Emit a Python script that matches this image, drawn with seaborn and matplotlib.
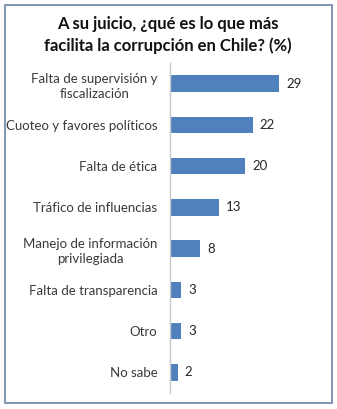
import matplotlib
matplotlib.use("Agg")
import matplotlib.pyplot as plt
import seaborn as sns
import pandas as pd
from matplotlib.patches import Rectangle

categories = [
    "Falta de supervisión y\nfiscalización",
    "Cuoteo y favores políticos",
    "Falta de ética",
    "Tráfico de influencias",
    "Manejo de información\nprivilegiada",
    "Falta de transparencia",
    "Otro",
    "No sabe",
]
values = [29, 22, 20, 13, 8, 3, 3, 2]
title = "A su juicio, ¿qué es lo que más\nfacilita la corrupción en Chile? (%)"

df = pd.DataFrame({"categoria": categories, "porcentaje": values})

sns.set_theme(style="white")
plt.rcParams["font.family"] = ["Lato", "DejaVu Sans"]

W, H = 337, 409
fig = plt.figure(figsize=(W / 100, H / 100), dpi=100)
fig.patch.set_facecolor("white")

ax = fig.add_axes([170 / W, 1 - 393 / H, 150 / W, 330 / H])
sns.barplot(data=df, x="porcentaje", y="categoria", orient="h",
            color="#4F81BD", saturation=1, width=0.4, linewidth=0, ax=ax)

ax.set_xlim(0, 150 / 3.76)
ax.set_ylim(len(categories) - 0.5, -0.5)
ax.set_xlabel("")
ax.set_ylabel("")
ax.set_xticks([])
ax.tick_params(axis="y", length=0, pad=9, labelsize=9.5, labelcolor="#3A3A3A")
for lbl in ax.get_yticklabels():
    lbl.set_horizontalalignment("right")
    lbl.set_multialignment("center")
    lbl.set_linespacing(1.3)
for s in ["top", "right", "bottom"]:
    ax.spines[s].set_visible(False)
ax.spines["left"].set_color("#C8C8C8")
ax.spines["left"].set_linewidth(1.0)

for container in ax.containers:
    ax.bar_label(container, labels=[str(v) for v in values], padding=5,
                 fontsize=9.5, color="#262626")

fig.text(168 / W, 1 - 35 / H, title, ha="center", va="center",
         fontsize=12, fontweight="bold", color="#111111", linespacing=1.35)

fig.add_artist(Rectangle((4.5 / W, 1 - 402.5 / H), 327 / W, 398 / H,
                         transform=fig.transFigure, fill=False,
                         edgecolor="#8093B8", linewidth=1.4))

fig.savefig("out.png", dpi=100)
